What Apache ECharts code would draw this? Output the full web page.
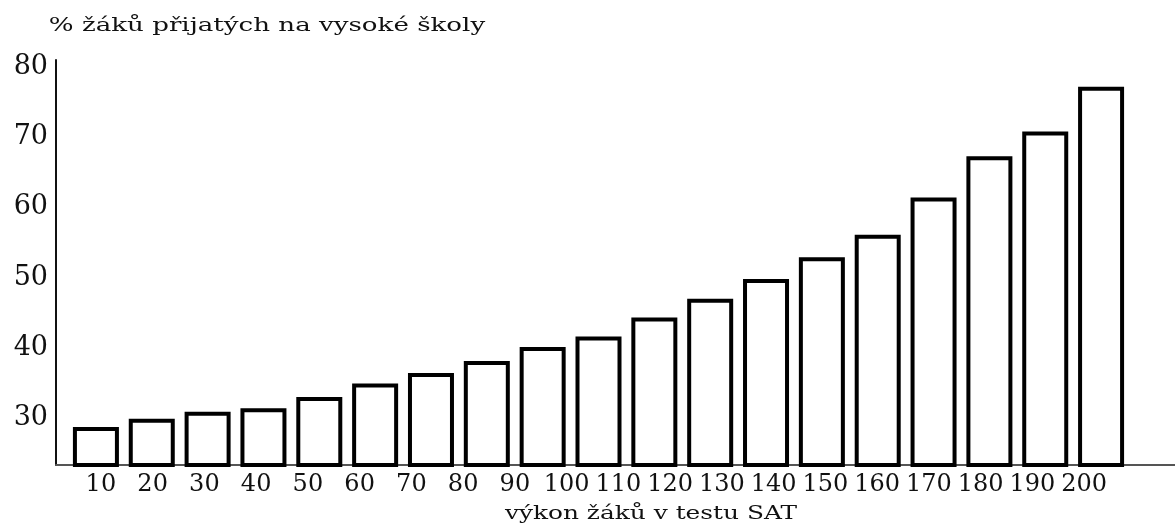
<!DOCTYPE html>
<html>
<head>
<meta charset="utf-8">
<script src="https://cdn.jsdelivr.net/npm/echarts@6/dist/echarts.min.js"></script>
<style>
  html, body { margin: 0; padding: 0; background: #fff; }
  #chart { width: 1175px; height: 526px; }
</style>
</head>
<body>
<div id="chart"></div>
<script>
// popisky osy x (výkon v testu SAT)
const satScores = ['10', '20', '30', '40', '50', '60', '70', '80', '90', '100',
  '110', '120', '130', '140', '150', '160', '170', '180', '190', '200']
// % přijatých – sloupce
const admitted = [28.7, 29.9, 30.9, 31.4, 33.0, 34.9, 36.4, 38.1, 40.1, 41.6,
  44.3, 47.0, 49.8, 52.9, 56.1, 61.4, 67.3, 70.8, 77.2]
const yTicks = [30, 40, 50, 60, 70, 80]

const titleText = '% žáků přijatých na vysoké školy'
const xName = 'výkon žáků v testu SAT'

const font = 'DejaVu Serif'
const yRange = { min: 23.3, max: 81 }

const chart = echarts.init(document.getElementById('chart'))

const option = {
  backgroundColor: '#fff',
  animation: false,
  grid: [
    { left: 56, right: 0, top: 60, bottom: 61 }, // osy
    { left: 68, right: 46, top: 60, bottom: 61 }, // sloupce
    { left: 75, right: 65, top: 60, bottom: 61 } // popisky
  ],
  xAxis: [
    {
      gridIndex: 0,
      type: 'value',
      min: 0,
      max: 1,
      axisLine: { show: true, lineStyle: { color: '#555', width: 2 } },
      axisTick: { show: false },
      axisLabel: { show: false },
      splitLine: { show: false }
    },
    {
      gridIndex: 1,
      type: 'category',
      data: admitted.map((v, i) => String(i)),
      axisLine: { show: false },
      axisTick: { show: false },
      axisLabel: { show: false }
    },
    {
      gridIndex: 2,
      type: 'category',
      data: satScores,
      axisLine: { show: false },
      axisTick: { show: false },
      axisLabel: {
        interval: 0,
        margin: 8,
        color: '#111',
        fontFamily: font,
        fontSize: 24
      }
    }
  ],
  yAxis: [
    {
      gridIndex: 0,
      type: 'value',
      ...yRange,
      axisLine: { show: true, lineStyle: { color: '#111', width: 2 } },
      axisTick: { show: false },
      splitLine: { show: false },
      axisLabel: {
        customValues: yTicks,
        margin: 8,
        color: '#111',
        fontFamily: font,
        fontSize: 27
      }
    },
    {
      gridIndex: 1,
      type: 'value',
      ...yRange,
      show: false,
      splitLine: { show: false }
    },
    {
      gridIndex: 2,
      type: 'value',
      show: false,
      splitLine: { show: false }
    }
  ],
  series: [
    {
      type: 'bar',
      xAxisIndex: 1,
      yAxisIndex: 1,
      barWidth: 46,
      data: admitted,
      itemStyle: {
        color: '#fff',
        borderColor: '#000',
        borderWidth: 4
      }
    }
  ],
  graphic: [
    {
      type: 'text',
      x: 267,
      y: 26,
      scaleX: 1.45,
      style: {
        text: titleText,
        align: 'center',
        verticalAlign: 'middle',
        fontFamily: font,
        fontSize: 18,
        fill: '#111'
      }
    },
    {
      type: 'text',
      x: 651,
      y: 514,
      scaleX: 1.38,
      style: {
        text: xName,
        align: 'center',
        verticalAlign: 'middle',
        fontFamily: font,
        fontSize: 18,
        fill: '#111'
      }
    }
  ]
}

chart.setOption(option)
</script>
</body>
</html>
